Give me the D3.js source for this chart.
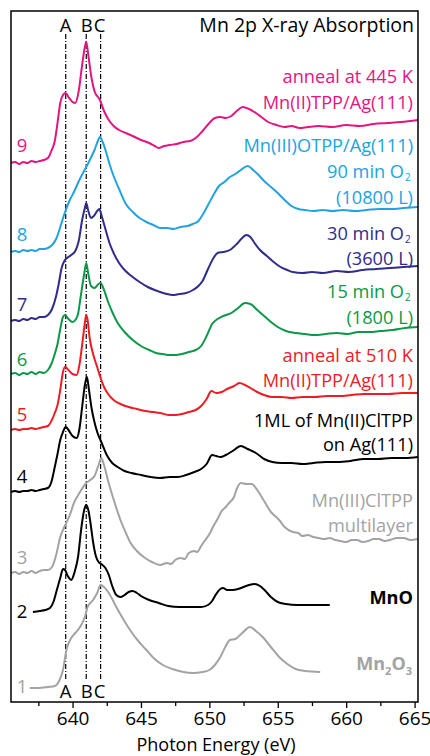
<!DOCTYPE html>
<html>
<head>
<meta charset="utf-8">
<script src="https://cdn.jsdelivr.net/npm/d3@7"></script>
<style>
  body { margin: 0; background: #fff; }
  svg text { font-family: "Open Sans", "Noto Sans", sans-serif; }
</style>
</head>
<body>
<div id="chart"></div>
<script>
// spectra: [photon energy (eV), intensity above own baseline]
const s9 = [[635.5,0],[635.8,1],[636.1,-1],[636.4,1],[636.7,0],[637.0,2],[637.3,1],[637.6,2],[637.9,3],[638.2,5],[638.45,12],[638.7,22],[638.9,40],[639.1,60],[639.3,68],[639.5,70],[639.7,66],[640.0,61],[640.2,60],[640.45,72],[640.7,98],[640.9,116],[641.0,121],[641.15,108],[641.35,88],[641.6,72],[642.0,63],[642.3,52],[642.6,44],[643.0,37],[643.4,33],[643.9,30],[644.4,27],[645.0,23],[645.6,20],[646.0,17],[646.3,15],[646.7,17],[647.1,18],[647.6,19],[648.1,21],[648.6,22],[649.0,25],[649.5,32],[650.0,40],[650.4,45],[650.8,46],[651.2,45],[651.6,47],[652.0,52],[652.45,56],[652.9,54],[653.4,50],[653.8,46],[654.3,41],[654.9,38],[655.5,36],[656.0,37],[656.6,35],[657.2,36],[658.0,37],[659.0,36],[660.0,38],[661.0,37],[662.0,39],[663.0,40],[664.0,41],[665.25,43]];
const s8 = [[635.5,0],[635.8,1],[636.1,0],[636.4,2],[636.7,1],[637.0,2],[637.3,1],[637.6,3],[637.9,3],[638.2,4],[638.5,7],[638.8,13],[639.1,25],[639.4,38],[639.8,52],[640.1,60],[640.5,72],[640.8,80],[641.0,85],[641.3,93],[641.6,102],[641.85,111],[642.0,115],[642.2,110],[642.45,100],[642.7,88],[643.0,76],[643.4,63],[643.9,48],[644.4,40],[644.9,34],[645.4,30],[645.9,27],[646.4,24],[646.9,24],[647.4,23],[647.9,25],[648.4,26],[648.8,28],[649.2,31],[649.5,37],[649.9,47],[650.3,57],[650.7,66],[651.1,70],[651.5,75],[651.9,78],[652.3,82],[652.8,86],[653.2,82],[653.6,77],[654.0,71],[654.5,65],[655.0,59],[655.5,52],[656.0,46],[656.5,43],[657.0,42],[657.6,41],[658.3,42],[659.0,41],[659.8,42],[660.6,41],[661.5,42],[662.4,43],[663.3,43],[664.2,44],[665.25,45]];
const s7 = [[635.5,0],[635.8,1],[636.1,0],[636.4,2],[636.7,1],[637.0,3],[637.3,2],[637.6,4],[637.9,4],[638.2,6],[638.5,12],[638.8,25],[639.0,38],[639.2,53],[639.4,60],[639.6,63],[639.9,66],[640.2,70],[640.45,80],[640.7,101],[640.9,113],[641.0,118],[641.15,110],[641.35,103],[641.55,105],[641.8,110],[641.95,112],[642.15,104],[642.4,92],[642.7,78],[643.0,68],[643.4,58],[643.8,51],[644.3,45],[644.9,39],[645.5,34],[646.0,31],[646.4,29],[646.9,27],[647.3,26],[647.8,27],[648.3,28],[648.8,31],[649.2,35],[649.5,40],[649.9,52],[650.3,63],[650.6,68],[651.0,69],[651.5,71],[652.0,77],[652.4,83],[652.7,86],[653.0,84],[653.3,78],[653.7,71],[654.2,65],[654.7,59],[655.2,54],[655.7,51],[656.1,49],[656.8,48],[657.5,49],[658.3,48],[659.3,50],[660.2,49],[661.2,51],[662.2,52],[663.2,53],[664.2,54],[665.25,55]];
const s6 = [[635.5,0],[635.8,1],[636.1,-1],[636.4,1],[636.7,0],[637.0,2],[637.3,0],[637.6,2],[637.9,1],[638.2,4],[638.45,10],[638.7,20],[638.9,30],[639.1,45],[639.3,57],[639.45,59],[639.7,55],[640.0,52],[640.2,54],[640.4,60],[640.6,78],[640.85,100],[641.0,111],[641.15,100],[641.35,88],[641.6,86],[641.9,90],[642.05,91],[642.3,84],[642.6,72],[642.9,62],[643.3,51],[643.8,42],[644.4,34],[645.0,28],[645.6,24],[646.1,21],[646.6,20],[647.1,19],[647.5,19],[648.0,20],[648.5,22],[649.0,24],[649.4,28],[649.8,38],[650.2,50],[650.6,55],[651.0,58],[651.6,61],[652.1,66],[652.6,71],[653.0,70],[653.5,64],[654.0,58],[654.5,52],[655.0,47],[655.6,43],[656.3,41],[657.0,40],[657.7,39],[658.5,40],[659.3,41],[660.1,40],[660.9,42],[661.7,42],[662.5,43],[663.4,44],[664.3,46],[665.25,47]];
const s5 = [[635.5,0],[635.8,1],[636.1,0],[636.4,1],[636.7,1],[637.0,2],[637.3,1],[637.6,2],[637.9,3],[638.2,4],[638.45,9],[638.7,17],[638.9,25],[639.1,40],[639.3,58],[639.45,63],[639.7,60],[640.0,56],[640.3,55],[640.5,65],[640.7,85],[640.9,107],[641.0,115],[641.1,110],[641.25,92],[641.5,76],[641.8,63],[642.0,54],[642.3,43],[642.6,36],[643.0,30],[643.5,26],[644.1,23],[644.7,21],[645.3,19],[645.9,18],[646.4,17],[647.0,15],[647.5,15],[648.0,16],[648.5,18],[649.0,20],[649.4,24],[649.8,31],[650.15,39],[650.5,37],[650.9,38],[651.3,41],[651.8,44],[652.2,47],[652.6,45],[653.0,42],[653.5,38],[654.0,35],[654.6,33],[655.3,33],[656.0,32],[656.8,33],[657.7,33],[658.6,34],[659.5,34],[660.4,35],[661.3,36],[662.2,36],[663.1,36],[664.1,37],[665.25,37]];
const s4 = [[635.5,0],[635.8,1],[636.1,0],[636.4,1],[636.7,1],[637.0,2],[637.3,1],[637.6,2],[637.9,3],[638.2,4],[638.45,10],[638.7,25],[638.9,38],[639.1,52],[639.3,60],[639.5,65],[639.7,62],[640.0,56],[640.3,54],[640.5,63],[640.7,85],[640.9,107],[641.05,115],[641.2,102],[641.4,83],[641.6,70],[641.8,60],[642.1,50],[642.5,37],[642.9,29],[643.3,25],[643.8,21],[644.3,19],[645.0,17],[645.7,15],[646.4,14],[647.1,15],[647.7,15],[648.3,17],[648.9,20],[649.4,23],[649.8,28],[650.2,37],[650.5,36],[650.8,35],[651.2,37],[651.7,41],[652.3,46],[652.8,43],[653.4,39],[654.0,33],[654.6,30],[655.3,29],[656.0,29],[656.8,28],[657.6,29],[658.5,30],[659.4,30],[660.3,31],[661.3,33],[662.3,33],[663.3,34],[664.3,34],[665.25,35]];
const s3 = [[635.5,0],[635.8,1],[636.1,-1],[636.4,1],[636.7,0],[637.0,2],[637.3,0],[637.6,2],[637.9,3],[638.2,3],[638.5,6],[638.8,18],[639.1,36],[639.4,46],[639.8,58],[640.1,70],[640.5,80],[641.0,90],[641.3,93],[641.6,97],[641.9,108],[642.1,115],[642.3,108],[642.6,92],[642.9,78],[643.2,65],[643.5,53],[643.9,40],[644.2,31],[644.7,22],[645.2,16],[645.8,11],[646.4,8],[646.9,10],[647.2,9],[647.5,13],[647.9,15],[648.2,14],[648.5,20],[648.9,22],[649.1,21],[649.4,27],[649.7,33],[650.05,40],[650.3,47],[650.6,54],[650.9,62],[651.2,66],[651.5,71],[651.8,76],[652.0,84],[652.3,90],[652.7,89],[653.1,89],[653.5,83],[654.0,72],[654.5,61],[654.8,57],[655.1,53],[655.5,46],[656.1,41],[656.5,40],[656.8,37],[657.2,38],[657.6,36],[658.0,35],[658.4,34],[658.8,35],[659.2,33],[659.6,32],[660.0,31],[660.4,33],[660.8,33],[661.2,31],[661.6,32],[662.0,34],[662.4,34],[662.8,32],[663.2,33],[663.7,35],[664.2,35],[664.7,33],[665.25,34]];
const s2 = [[637.1,0],[637.6,1],[638.0,2],[638.35,4],[638.6,10],[638.85,22],[639.1,34],[639.3,43],[639.45,42],[639.65,36],[639.9,32],[640.15,40],[640.4,55],[640.65,85],[640.85,102],[641.0,107],[641.15,102],[641.3,90],[641.5,70],[641.7,56],[641.9,50],[642.1,48],[642.4,44],[642.65,37],[642.9,26],[643.2,17],[643.5,15],[643.8,17],[644.1,20],[644.4,21],[644.7,19],[645.0,16],[645.6,12],[646.3,9],[647.0,6],[647.8,5],[648.6,5],[649.4,5],[649.9,7],[650.2,11],[650.5,18],[650.8,23],[651.0,24],[651.3,22],[651.7,22],[652.1,23],[652.5,25],[652.9,27],[653.3,28],[653.7,26],[654.1,21],[654.5,15],[655.0,10],[655.6,8],[656.4,7],[657.4,7],[658.8,7]];
const s1 = [[636.88,0],[637.5,0],[638.2,1],[638.7,2],[639.05,8],[639.3,18],[639.55,38],[639.9,50],[640.2,55],[640.5,60],[640.9,71],[641.1,81],[641.5,88],[641.8,95],[642.05,103],[642.3,101],[642.6,96],[643.2,81],[643.7,69],[644.2,58],[644.8,47],[645.4,38],[646.0,29],[646.6,23],[647.3,19],[648.1,16],[648.8,15],[649.5,16],[650.0,18],[650.4,23],[650.8,31],[651.2,42],[651.5,48],[651.9,49],[652.4,55],[652.97,61],[653.4,57],[653.9,51],[654.5,41],[655.1,31],[655.7,24],[656.3,19],[657.0,17],[658.1,16]];

const spectra = [s1, s2, s3, s4, s5, s6, s7, s8, s9];
const curveNames = ["1", "2", "3", "4", "5", "6", "7", "8", "9"];
const offsets = [14, 90, 129, 210, 272, 328, 381, 450, 539];
const colors = ["#a3a3a3", "#000000", "#a3a3a3", "#000000", "#ed1c24", "#0c9848", "#2f2c8c", "#22a3e0", "#e5157f"];
const numberY = [693, 618, 564, 483, 421, 366, 311, 241, 152];

// right-hand captions, one row per line: [text, subscript, baseline y, colour index, bold]
const captions = [
  ["anneal at 445 K", "", 83, 8, false],
  ["Mn(II)TPP/Ag(111)", "", 109, 8, false],
  ["Mn(III)OTPP/Ag(111)", "", 152, 7, false],
  ["90 min O", "2", 178, 7, false],
  ["(10800 L)", "", 204, 7, false],
  ["30 min O", "2", 240, 6, false],
  ["(3600 L)", "", 265, 6, false],
  ["15 min O", "2", 298, 5, false],
  ["(1800 L)", "", 324, 5, false],
  ["anneal at 510 K", "", 362, 4, false],
  ["Mn(II)TPP/Ag(111)", "", 387, 4, false],
  ["1ML of Mn(II)ClTPP", "", 427, 3, false],
  ["on Ag(111)", "", 451, 3, false],
  ["Mn(III)ClTPP", "", 507, 2, false],
  ["multilayer", "", 532, 2, false],
  ["MnO", "", 604, 1, true]
];

const peakEnergies = [639.5, 641.0, 642.05];
const peakNames = ["A", "B", "C"];
const majorTicks = [640, 645, 650, 655, 660, 665];
const minorTicks = [637.5, 642.5, 647.5, 652.5, 657.5, 662.5];

const W = 430, H = 756;
const box = { left: 11, right: 418, top: 11, bottom: 702 };

const svg = d3.select("#chart").append("svg")
    .attr("width", W)
    .attr("height", H);

const x = d3.scaleLinear().domain([635.5, 665.25]).range([box.left, box.right]);
const y = d3.scaleLinear().domain([0, box.bottom - box.top]).range([box.bottom, box.top]);

// dash-dot guide lines at A, B, C
svg.selectAll("line.guide")
    .data(peakEnergies)
    .join("line")
    .attr("class", "guide")
    .attr("x1", d => x(d)).attr("x2", d => x(d))
    .attr("y1", 34).attr("y2", 681)
    .attr("stroke", "#000")
    .attr("stroke-width", 1.2)
    .attr("stroke-dasharray", "5,2,1,2");

// spectra
const line = d3.line()
    .x(d => x(d[0]))
    .curve(d3.curveMonotoneX);

svg.selectAll("path.spec")
    .data(spectra)
    .join("path")
    .attr("class", "spec")
    .attr("fill", "none")
    .attr("stroke", (d, i) => colors[i])
    .attr("stroke-width", 2)
    .attr("stroke-linejoin", "round")
    .attr("d", (d, i) => line.y(p => y(offsets[i] + p[1]))(d));

// curve numbers on the left
svg.selectAll("text.num")
    .data(curveNames)
    .join("text")
    .attr("class", "num")
    .attr("x", 22)
    .attr("y", (d, i) => numberY[i])
    .attr("text-anchor", "middle")
    .attr("font-size", 18.5)
    .attr("fill", (d, i) => colors[i])
    .text(d => d);

// A B C letters top and bottom
[32, 698].forEach(function (ty) {
    svg.append("g").selectAll("text")
        .data(peakNames)
        .join("text")
        .attr("x", (d, i) => x(peakEnergies[i]) + (i == 1 ? 0.5 : i == 2 ? -1 : 0))
        .attr("y", ty)
        .attr("text-anchor", "middle")
        .attr("font-size", 18.5)
        .text(d => d);
});

// title
svg.append("text")
    .attr("x", 414).attr("y", 32)
    .attr("text-anchor", "end")
    .attr("font-size", 19.5)
    .text("Mn 2p X-ray Absorption");

// captions
svg.selectAll("text.cap")
    .data(captions)
    .join("text")
    .attr("class", "cap")
    .attr("x", d => d[1] ? 404 : 413)
    .attr("y", d => d[2])
    .attr("text-anchor", "end")
    .attr("font-size", 18.2)
    .attr("font-weight", d => d[4] ? "bold" : "normal")
    .attr("fill", d => colors[d[3]])
    .text(d => d[0]);

captions.forEach(function (d) {
    if (!d[1]) return;
    svg.append("text")
        .attr("x", 405).attr("y", d[2] + 3)
        .attr("font-size", 10)
        .attr("fill", colors[d[3]])
        .text(d[1]);
});

// Mn2O3 label
const mn2o3 = svg.append("text")
    .attr("x", 412).attr("y", 670)
    .attr("text-anchor", "end")
    .attr("font-size", 18)
    .attr("font-weight", "bold")
    .attr("fill", colors[0]);
mn2o3.append("tspan").text("Mn");
mn2o3.append("tspan").attr("font-size", 11).attr("dy", 5).text("2");
mn2o3.append("tspan").attr("dy", -5).text("O");
mn2o3.append("tspan").attr("font-size", 11).attr("dy", 5).text("3");

// frame
svg.append("rect")
    .attr("x", box.left).attr("y", box.top)
    .attr("width", box.right - box.left)
    .attr("height", box.bottom - box.top)
    .attr("fill", "none")
    .attr("stroke", "#000")
    .attr("stroke-width", 1.5);

// bottom axis
const axis = svg.append("g")
    .attr("transform", "translate(0," + box.bottom + ")")
    .call(d3.axisBottom(x).tickValues(majorTicks).tickSize(6).tickPadding(4).tickFormat(d3.format("d")));
axis.select(".domain").remove();
axis.selectAll("text").attr("font-size", 19).attr("font-family", "Open Sans").attr("fill", "#000");
axis.selectAll("line").attr("stroke-width", 1.3);

const minor = svg.append("g")
    .attr("transform", "translate(0," + box.bottom + ")")
    .call(d3.axisBottom(x).tickValues(minorTicks).tickSize(4).tickFormat(""));
minor.select(".domain").remove();
minor.selectAll("line").attr("stroke-width", 1.3);

svg.append("text")
    .attr("x", 216).attr("y", 751)
    .attr("text-anchor", "middle")
    .attr("font-size", 18)
    .text("Photon Energy (eV)");
</script>
</body>
</html>
